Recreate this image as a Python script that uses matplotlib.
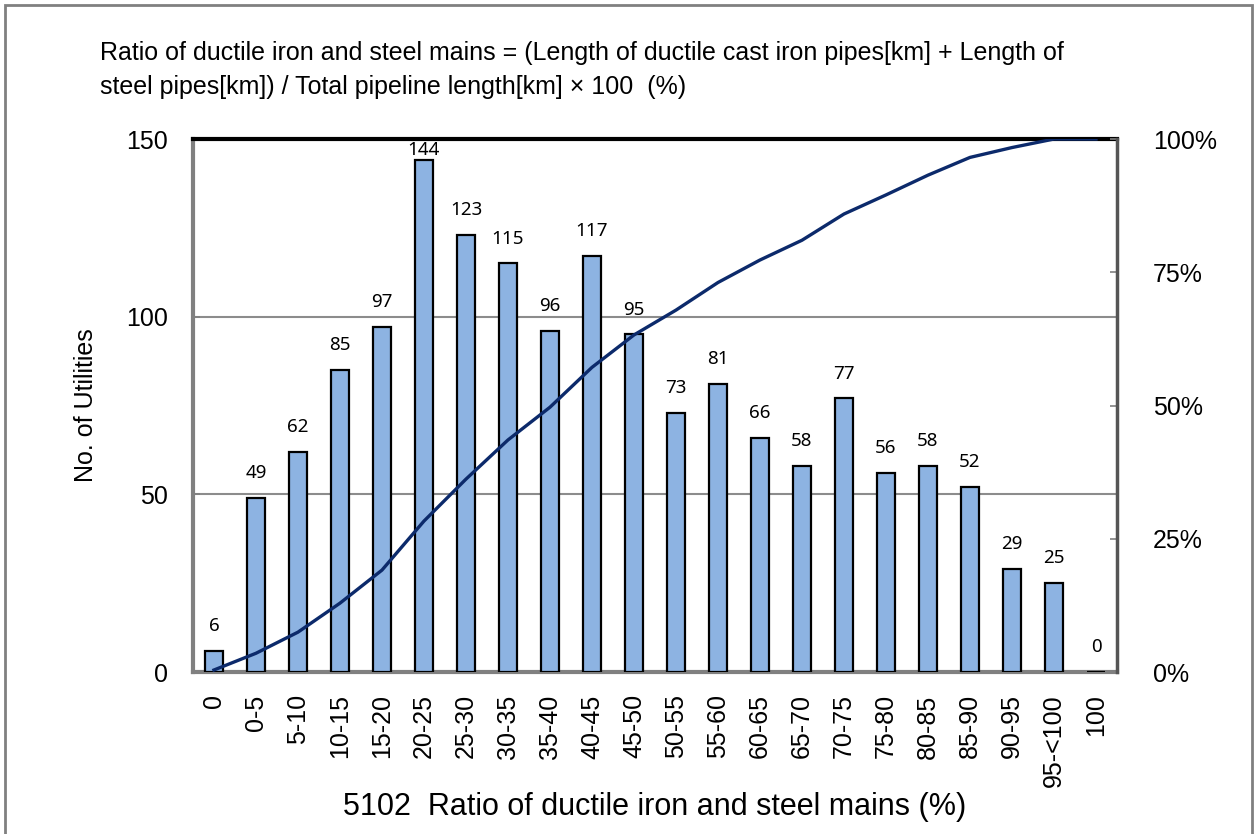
import matplotlib
matplotlib.use("Agg")
import matplotlib.pyplot as plt
from matplotlib.patches import Rectangle

categories = ["0", "0-5", "5-10", "10-15", "15-20", "20-25", "25-30", "30-35",
              "35-40", "40-45", "45-50", "50-55", "55-60", "60-65", "65-70",
              "70-75", "75-80", "80-85", "85-90", "90-95", "95-<100", "100"]
counts = [6, 49, 62, 85, 97, 144, 123, 115, 96, 117, 95, 73, 81, 66, 58, 77,
          56, 58, 52, 29, 25, 0]
cumulative_pct = [0.38, 3.52, 7.48, 12.92, 19.12, 28.32, 36.19, 43.54, 49.68,
                  57.16, 63.24, 67.90, 73.08, 77.30, 81.01, 85.93, 89.51,
                  93.22, 96.55, 98.40, 100.0, 100.0]
left_ticks = [0, 50, 100, 150]
right_ticks = [0, 25, 50, 75, 100]

title = ("Ratio of ductile iron and steel mains = (Length of ductile cast iron pipes[km] + Length of\n"
         "steel pipes[km]) / Total pipeline length[km] \u00d7 100  (%)")
xlabel = "5102  Ratio of ductile iron and steel mains (%)"
ylabel = "No. of Utilities"

plt.rcParams['font.family'] = ['Liberation Sans', 'DejaVu Sans']

fig = plt.figure(figsize=(12.57, 8.34), dpi=100)
fig.patches.append(Rectangle((0.004, -0.01), 0.992, 1.004, transform=fig.transFigure,
                             fill=False, edgecolor='#808080', linewidth=2))

ax = fig.add_axes([0.1535, 0.1942, 0.7351, 0.6391])
x = list(range(len(categories)))
ax.bar(x, counts, width=0.43, color='#8DB3E2', edgecolor='black',
       linewidth=1.6, zorder=3)
for xi, v in zip(x, counts):
    ax.text(xi, min(v + 7, 147), str(v), ha='center', va='center', fontsize=13.5,
            family=['Noto Sans', 'DejaVu Sans'], zorder=4)

ax.set_xlim(-0.5, len(categories) - 0.5)
ax.set_ylim(0, 150)
ax.set_yticks(left_ticks)
ax.set_xticks(x)
ax.set_xticklabels(categories, rotation=90, fontsize=18)
ax.tick_params(axis='x', length=0, pad=16)
ax.tick_params(axis='y', direction='in', length=5, width=1.2, color='#808080',
               labelsize=18, pad=18)
for yv in [50, 100]:
    ax.axhline(yv, color='#8c8c8c', linewidth=1.5, zorder=1)
ax.spines['top'].set_color('black')
ax.spines['top'].set_linewidth(3)
ax.spines['left'].set_color('#808080')
ax.spines['left'].set_linewidth(3)
ax.spines['bottom'].set_color('#808080')
ax.spines['bottom'].set_linewidth(3)
ax.spines['right'].set_visible(False)
ax.set_xlabel(xlabel, fontsize=22, labelpad=4)
ax.set_ylabel(ylabel, fontsize=18, labelpad=20)

ax2 = ax.twinx()
ax2.plot(x, cumulative_pct, color='#0C2A6B', linewidth=2.4, zorder=5)
ax2.set_ylim(0, 100)
ax2.set_yticks(right_ticks)
ax2.set_yticklabels([f"{t}%" for t in right_ticks])
ax2.tick_params(axis='y', direction='in', length=5, width=1.2, color='#808080',
                labelsize=18, pad=26)
ax2.spines['right'].set_color('#555555')
ax2.spines['right'].set_linewidth(2.5)
for s in ['top', 'left', 'bottom']:
    ax2.spines[s].set_visible(False)

fig.text(0.0795, 0.916, title, ha='left', va='center', fontsize=18,
         linespacing=1.55)

fig.savefig("out.png", dpi=100)
